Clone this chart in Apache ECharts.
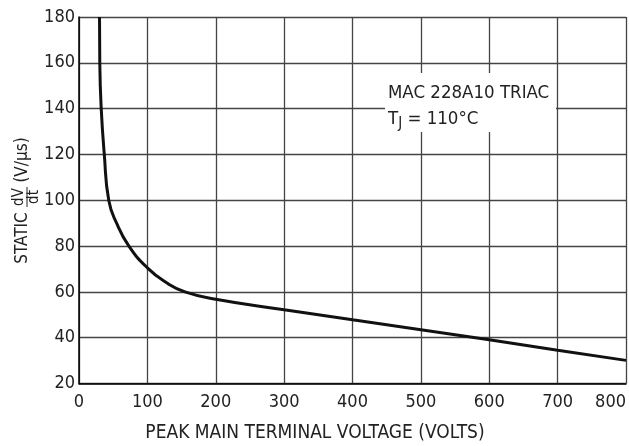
<!DOCTYPE html>
<html>
<head>
<meta charset="utf-8">
<script src="https://cdn.jsdelivr.net/npm/echarts@6/dist/echarts.min.js"></script>
<style>html,body{margin:0;padding:0;background:#fff}#c{width:629px;height:446px}</style>
</head>
<body>
<div id="c"></div>
<script>
const voltage = [30, 30.4, 32.5, 37, 43.5, 55, 73, 100, 128, 155, 200, 300, 400, 500, 600, 700, 800];
const dvdt    = [180, 160, 140, 120, 100, 90, 80, 70.5, 64, 60, 56.8, 52.2, 47.8, 43.5, 39.1, 34.5, 30.1];
const xTicks = [0, 100, 200, 300, 400, 500, 600, 700, 800];
const yTicks = [20, 40, 60, 80, 100, 120, 140, 160, 180];
const xTitle = 'PEAK MAIN TERMINAL VOLTAGE (VOLTS)';
const noteLine1 = 'MAC 228A10 TRIAC';
const noteLine2 = ['T', 'J', ' = 110°C'];

const FONT = '"Liberation Sans Narrow", "Arial Narrow", "DejaVu Sans Condensed", sans-serif';
const chart = echarts.init(document.getElementById('c'), null, {renderer: 'canvas'});
const gridColor = '#444';
chart.setOption({
  animation: false,
  backgroundColor: '#fff',
  grid: {left: 79, right: 0, top: 17, bottom: 62.5},
  xAxis: {
    type: 'value', min: xTicks[0], max: xTicks[xTicks.length - 1], interval: 100,
    axisLine: {show: true, lineStyle: {color: '#000', width: 1.5}},
    axisTick: {show: false},
    splitLine: {show: true, lineStyle: {color: gridColor, width: 1.3}},
    axisLabel: {color: '#222', fontFamily: FONT, fontSize: 18, margin: 10, alignMaxLabel: 'right'}
  },
  yAxis: {
    type: 'value', min: yTicks[0], max: yTicks[yTicks.length - 1], interval: 20,
    axisLine: {show: true, lineStyle: {color: '#000', width: 1.5}},
    axisTick: {show: false},
    splitLine: {show: true, lineStyle: {color: gridColor, width: 1.3}},
    axisLabel: {color: '#222', fontFamily: FONT, fontSize: 18, margin: 4}
  },
  series: [{
    type: 'line',
    data: voltage.map((v, i) => [v, dvdt[i]]),
    smooth: 0.5,
    symbol: 'none',
    lineStyle: {color: '#111', width: 3},
    z: 5
  }],
  graphic: [
    {type: 'rect', z: 50, shape: {x: 385, y: 73, width: 171, height: 59}, style: {fill: '#fff'}},
    {type: 'text', z: 51, x: 388, y: 93, style: {text: noteLine1, fontFamily: FONT, fontSize: 18.5, fill: '#222', verticalAlign: 'middle'}},
    {type: 'text', z: 51, x: 388, y: 119, style: {
      text: '{a|' + noteLine2[0] + '}{s|' + noteLine2[1] + '}{a|' + noteLine2[2] + '}',
      verticalAlign: 'middle',
      rich: {
        a: {fontFamily: FONT, fontSize: 18.5, fill: '#222'},
        s: {fontFamily: FONT, fontSize: 15, fill: '#222', padding: [10, 0, 0, 0]}
      }
    }},
    {type: 'text', z: 51, x: 315, y: 433, style: {text: xTitle, fontFamily: FONT, fontSize: 19, fill: '#222', align: 'center', verticalAlign: 'middle'}},
    {type: 'text', z: 51, x: 23, y: 238, rotation: Math.PI / 2, style: {text: 'STATIC', fontFamily: FONT, fontSize: 17, fill: '#222', align: 'center', verticalAlign: 'middle'}},
    {type: 'text', z: 51, x: 19, y: 197, rotation: Math.PI / 2, style: {text: 'dV', fontFamily: FONT, fontSize: 15, fill: '#222', align: 'center', verticalAlign: 'middle'}},
    {type: 'line', z: 51, shape: {x1: 27, y1: 187, x2: 27, y2: 207}, style: {stroke: '#222', lineWidth: 1}},
    {type: 'text', z: 51, x: 34, y: 197, rotation: Math.PI / 2, style: {text: 'dt', fontFamily: FONT, fontSize: 15, fill: '#222', align: 'center', verticalAlign: 'middle'}},
    {type: 'text', z: 51, x: 23, y: 160, rotation: Math.PI / 2, style: {text: '(V/µs)', fontFamily: FONT, fontSize: 17, fill: '#222', align: 'center', verticalAlign: 'middle'}}
  ]
});
</script>
</body>
</html>
